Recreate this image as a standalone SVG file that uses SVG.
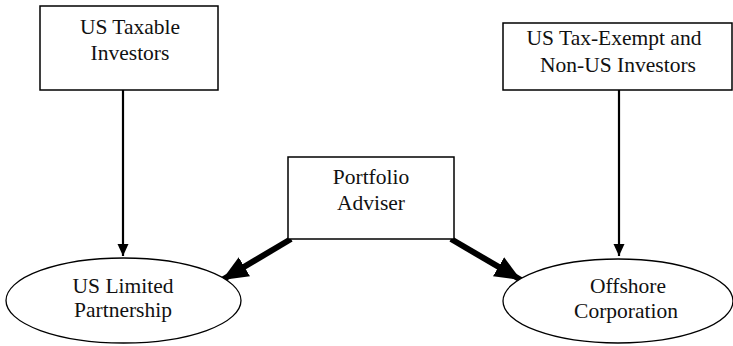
<svg xmlns="http://www.w3.org/2000/svg" width="733" height="346" viewBox="0 0 733 346">
<defs>
<style>
.box{fill:#fff;stroke:#000;stroke-width:1.5}
.ell{fill:#fff;stroke:#000;stroke-width:1.3}
.t{font-family:"Liberation Serif","Times New Roman",serif;font-size:21.5px;fill:#111;text-anchor:middle}
.thin{stroke:#000;stroke-width:2.2;fill:none}
.thick{stroke:#000;stroke-width:6;fill:none}
</style>
<marker id="ah" markerUnits="userSpaceOnUse" markerWidth="12" markerHeight="12" viewBox="0 0 12 12" refX="12" refY="6" orient="auto">
<path d="M0,0.5 L12,6 L0,11.5 Z" fill="#000"/>
</marker>
<marker id="ahb" markerUnits="userSpaceOnUse" markerWidth="26" markerHeight="24" viewBox="0 0 26 24" refX="26" refY="12" orient="auto">
<path d="M0,1 L26,12 L0,23 Z" fill="#000"/>
</marker>
</defs>
<g id="connectors">
<line class="thin" x1="123" y1="90" x2="123" y2="256" marker-end="url(#ah)"/>
<line class="thin" x1="619" y1="90" x2="619" y2="256" marker-end="url(#ah)"/>
<line class="thick" x1="291" y1="239" x2="222" y2="280" marker-end="url(#ahb)"/>
<line class="thick" x1="451" y1="239" x2="521" y2="280" marker-end="url(#ahb)"/>
</g>
<g id="us-taxable">
<rect class="box" x="40" y="6" width="178" height="84"/>
<text class="t" x="130" y="34">US Taxable</text>
<text class="t" x="130" y="60">Investors</text>
</g>
<g id="us-taxexempt">
<rect class="box" x="503" y="23" width="229" height="67"/>
<text class="t" x="614" y="45">US Tax-Exempt and</text>
<text class="t" x="618" y="72">Non-US Investors</text>
</g>
<g id="portfolio-adviser">
<rect class="box" x="288" y="157" width="166" height="82"/>
<text class="t" x="371" y="184">Portfolio</text>
<text class="t" x="371" y="210">Adviser</text>
</g>
<g id="us-lp">
<ellipse class="ell" cx="123.5" cy="300.5" rx="117.5" ry="42.5"/>
<text class="t" x="123" y="293">US Limited</text>
<text class="t" x="123" y="317">Partnership</text>
</g>
<g id="offshore">
<ellipse class="ell" cx="618" cy="301" rx="115" ry="42"/>
<text class="t" x="628" y="293">Offshore</text>
<text class="t" x="626" y="318">Corporation</text>
</g>
</svg>
